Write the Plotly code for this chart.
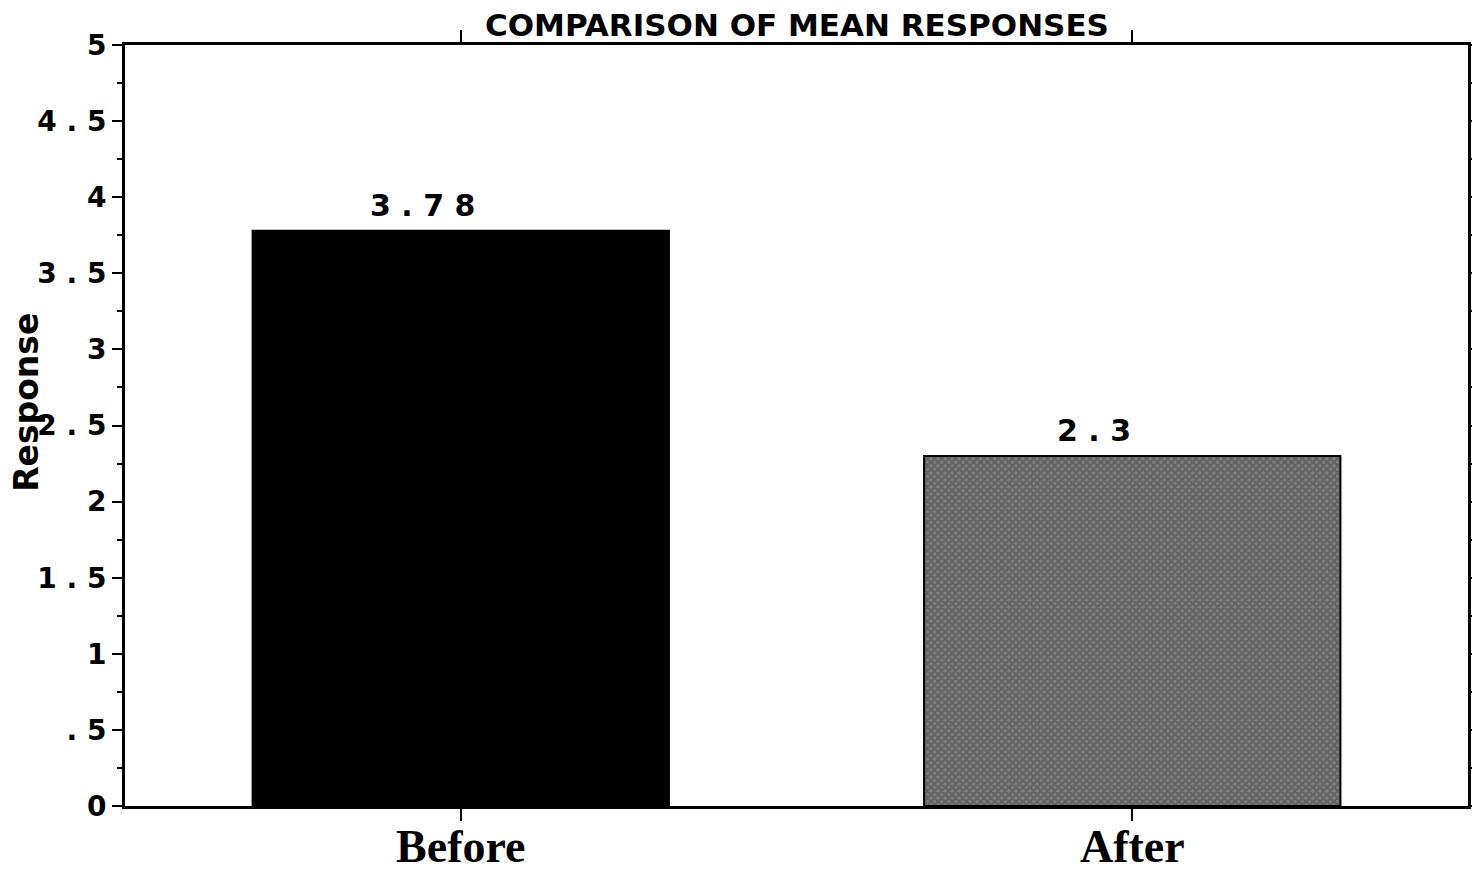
import plotly.graph_objects as go

categories = ["Before", "After"]
mean_responses = [3.78, 2.3]
bar_labels = ["3 . 7 8", "2 . 3"]
y_tick_values = [0, 0.5, 1, 1.5, 2, 2.5, 3, 3.5, 4, 4.5, 5]
y_tick_labels = ["0", ". 5", "1", "1 . 5", "2", "2 . 5", "3", "3 . 5", "4", "4 . 5", "5"]
y_axis_title = "Response"

fig = go.Figure()
fig.add_trace(go.Bar(
    x=categories,
    y=mean_responses,
    width=0.62,
    marker=dict(
        color=["black", "#808080"],
        line=dict(color="black", width=2),
        pattern=dict(shape=["", "x"], fgcolor="black", bgcolor="#ffffff",
                     size=5, solidity=0.66),
    ),
    showlegend=False,
))

# value labels above the bars (slightly left of centre, as in the original)
for cat, val, lab in zip(categories, mean_responses, bar_labels):
    fig.add_annotation(
        x=cat, y=val, text=lab, showarrow=False,
        xanchor="center", yanchor="bottom", xshift=-38, yshift=6,
        font=dict(family="DejaVu Sans", size=30, color="black", weight="bold"),
    )

# y-axis title, placed as in the original (a little above the centre)
fig.add_annotation(
    xref="paper", yref="paper", x=-0.073, y=0.531,
    text=y_axis_title, textangle=-90, showarrow=False,
    xanchor="center", yanchor="middle",
    font=dict(family="DejaVu Sans", size=33, color="black", weight="bold"),
)

# page body adds an 8px offset; figure sized so that it fits the window
fig.update_layout(
    width=1472, height=865,
    margin=dict(l=117, r=12, t=37, b=67, autoexpand=False),
    paper_bgcolor="white", plot_bgcolor="white",
    title=dict(
        text="COMPARISON OF MEAN RESPONSES",
        x=0.536, xanchor="center",
        yref="container", y=0.980, yanchor="middle",
        font=dict(family="DejaVu Sans", size=31, color="black", weight="bold"),
    ),
    xaxis=dict(
        range=[-0.5, 1.5], automargin=False,
        showline=True, linecolor="black", linewidth=3, mirror="ticks",
        ticks="outside", ticklen=12, tickwidth=2, tickcolor="black",
        ticklabelstandoff=-14,
        tickfont=dict(family="Liberation Serif", size=46, color="black", weight="bold"),
        showgrid=False, zeroline=False,
    ),
    yaxis=dict(
        range=[0, 5], automargin=False,
        tickvals=y_tick_values, ticktext=y_tick_labels,
        showline=True, linecolor="black", linewidth=3, mirror="ticks",
        ticks="outside", ticklen=10, tickwidth=2, tickcolor="black",
        minor=dict(dtick=0.25, ticks="outside", ticklen=5, tickwidth=2, tickcolor="black"),
        tickfont=dict(family="DejaVu Sans", size=28, color="black", weight="bold"),
        showgrid=False, zeroline=False,
    ),
)

fig.write_html("out.html")
